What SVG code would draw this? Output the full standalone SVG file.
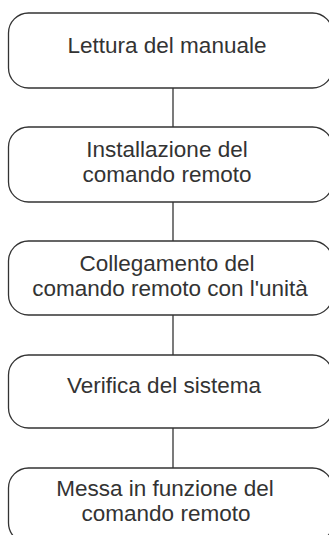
<svg xmlns="http://www.w3.org/2000/svg" width="329" height="535" viewBox="0 0 329 535">
<style>
.box{fill:#fff;stroke:#333;stroke-width:1.3}
.lbl{font-family:"Liberation Sans",Arial,sans-serif;font-size:22.5px;fill:#333;text-anchor:middle}
.conn{stroke:#333;stroke-width:1.3;fill:none}
</style>
<rect width="329" height="535" fill="#fff"/>
<g id="connectors">
<line class="conn" x1="173" y1="88" x2="173" y2="127"/>
<line class="conn" x1="173" y1="202" x2="173" y2="241"/>
<line class="conn" x1="173" y1="315" x2="173" y2="355"/>
<line class="conn" x1="173" y1="428" x2="173" y2="468"/>
</g>
<g id="n1">
<rect class="box" x="8.5" y="13" width="324" height="75" rx="20"/>
<text class="lbl" x="167" y="53">Lettura del manuale</text>
</g>
<g id="n2">
<rect class="box" x="8.5" y="127" width="324" height="75" rx="20"/>
<text class="lbl" x="167" y="157">Installazione del</text>
<text class="lbl" x="167" y="182">comando remoto</text>
</g>
<g id="n3">
<rect class="box" x="8.5" y="241" width="324" height="74" rx="20"/>
<text class="lbl" x="167" y="271">Collegamento del</text>
<text class="lbl" x="170" y="296">comando remoto con l'unità</text>
</g>
<g id="n4">
<rect class="box" x="8.5" y="355" width="324" height="73" rx="20"/>
<text class="lbl" x="164" y="393">Verifica del sistema</text>
</g>
<g id="n5">
<rect class="box" x="8.5" y="468" width="324" height="75" rx="20"/>
<text class="lbl" x="165" y="496">Messa in funzione del</text>
<text class="lbl" x="166" y="521">comando remoto</text>
</g>
</svg>
